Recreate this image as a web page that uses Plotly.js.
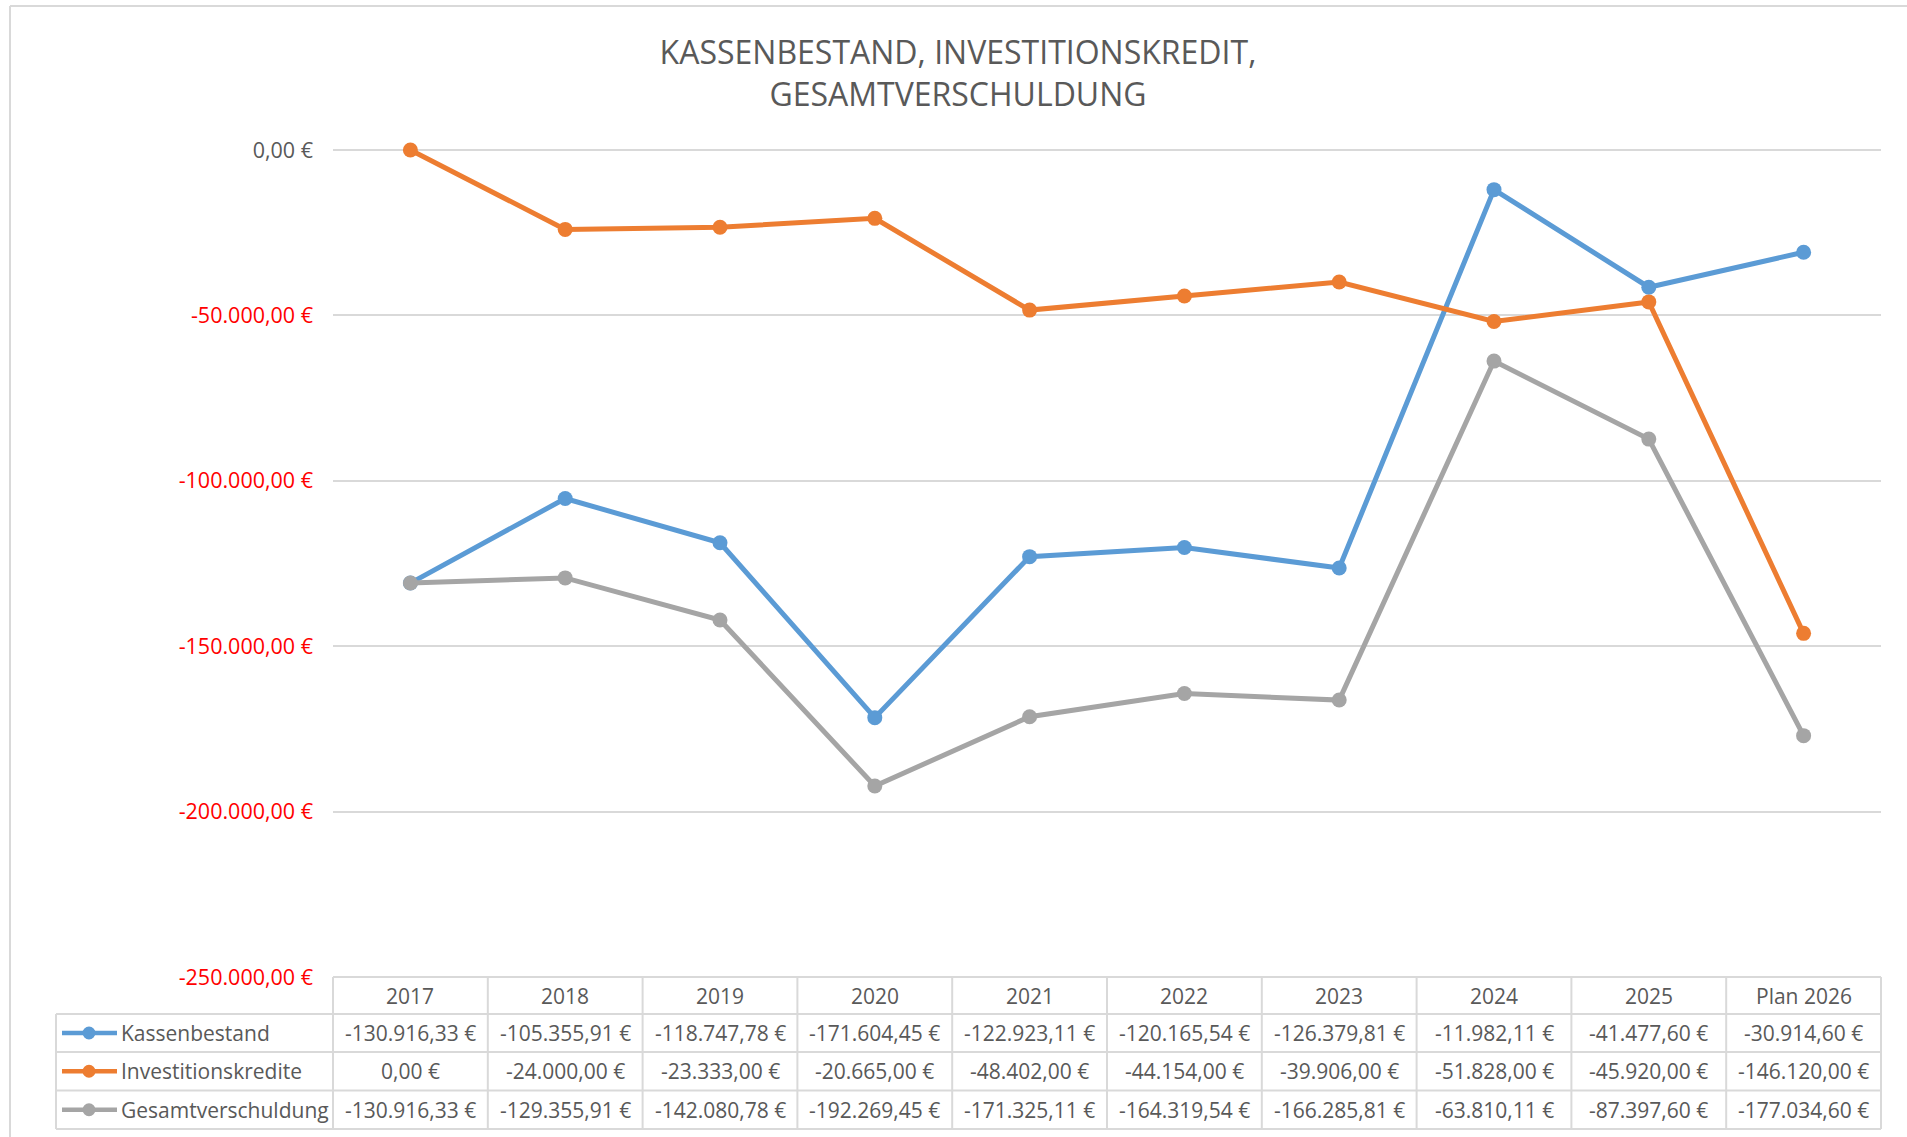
<!DOCTYPE html>
<html><head><meta charset="utf-8">
<script src="https://cdn.plot.ly/plotly-3.0.1.min.js"></script>
<style>html,body{margin:0;padding:0;background:#fff;}#chart{width:1907px;height:1137px;}</style>
</head><body><div id="chart"></div>
<script>
const categories = ['2017','2018','2019','2020','2021','2022','2023','2024','2025','Plan 2026'];
const seriesNames = ['Kassenbestand','Investitionskredite','Gesamtverschuldung'];
const kassenbestand = [-130916.33,-105355.91,-118747.78,-171604.45,-122923.11,-120165.54,-126379.81,-11982.11,-41477.60,-30914.60];
const investitionskredite = [0,-24000,-23333,-20665,-48402,-44154,-39906,-51828,-45920,-146120];
const gesamtverschuldung = [-130916.33,-129355.91,-142080.78,-192269.45,-171325.11,-164319.54,-166285.81,-63810.11,-87397.60,-177034.60];
const yTickValues = [0,-50000,-100000,-150000,-200000,-250000];
const titleText = 'KASSENBESTAND, INVESTITIONSKREDIT,<br>GESAMTVERSCHULDUNG';

const seriesValues = [kassenbestand, investitionskredite, gesamtverschuldung];
const colors = ['#5B9BD5','#ED7D31','#A5A5A5'];
const textColor = '#595959';
const lineColor = '#D9D9D9';
const FONT = '"Open Sans", sans-serif';

function fmtEuro(v){
  const neg = v < 0;
  const s = Math.abs(v).toFixed(2);
  let [i, d] = s.split('.');
  i = i.replace(/\B(?=(\d{3})+(?!\d))/g, '.');
  return (neg ? '-' : '') + i + ',' + d + ' €';
}

// layout geometry (pixels)
const W = 1907, H = 1137;
const mL = 333, mR = 26, mT = 150, mB = 160;
const pw = W - mL - mR, ph = H - mT - mB;
const plotBottom = H - mB;
const xp = px => (px - mL) / pw;
const yp = py => (plotBottom - py) / ph;

const rowEdges = [plotBottom, 1014, 1052, 1090.5, 1129];
const rowCenter = k => (rowEdges[k] + rowEdges[k+1]) / 2;
const legendLeft = 56;

const traces = seriesValues.map((vals, k) => ({
  type: 'scatter', mode: 'lines+markers',
  name: seriesNames[k], x: categories, y: vals,
  line: {color: colors[k], width: 5},
  marker: {color: colors[k], size: 15},
  cliponaxis: false, showlegend: false, hoverinfo: 'x+y'
}));

const shapes = [];
const annotations = [];
const lineStyle = {color: lineColor, width: 2};

// chart frame (left and top edges)
shapes.push({type:'line', xref:'paper', yref:'paper', x0:xp(10), x1:xp(10), y0:yp(6), y1:yp(H+5), line:{color:lineColor, width:2}});
shapes.push({type:'line', xref:'paper', yref:'paper', x0:xp(10), x1:xp(W+5), y0:yp(6), y1:yp(6), line:{color:lineColor, width:2}});

// table horizontal lines
shapes.push({type:'line', xref:'paper', yref:'paper', x0:0, x1:1, y0:yp(rowEdges[0]), y1:yp(rowEdges[0]), line:lineStyle});
for (let r = 1; r < rowEdges.length; r++) {
  shapes.push({type:'line', xref:'paper', yref:'paper', x0:xp(legendLeft), x1:1, y0:yp(rowEdges[r]), y1:yp(rowEdges[r]), line:lineStyle});
}
// table vertical lines
for (let c = 0; c <= categories.length; c++) {
  const x = c / categories.length;
  shapes.push({type:'line', xref:'paper', yref:'paper', x0:x, x1:x, y0:yp(rowEdges[0]), y1:yp(rowEdges[4]), line:lineStyle});
}
shapes.push({type:'line', xref:'paper', yref:'paper', x0:xp(legendLeft), x1:xp(legendLeft), y0:yp(rowEdges[1]), y1:yp(rowEdges[4]), line:lineStyle});

// header (x given as category index on the category axis)
categories.forEach((c, i) => annotations.push({
  xref:'x', yref:'paper', x:i, y:yp(rowCenter(0)), text:c, showarrow:false,
  xanchor:'center', yanchor:'middle', font:{family:FONT, size:21, color:textColor}
}));
// rows
seriesValues.forEach((vals, k) => {
  const yc = rowCenter(k+1);
  vals.forEach((v, i) => annotations.push({
    xref:'x', yref:'paper', x:i, y:yp(yc), text:fmtEuro(v), showarrow:false,
    xanchor:'center', yanchor:'middle', font:{family:FONT, size:21, color:textColor}
  }));
  // legend key
  shapes.push({type:'line', xref:'paper', yref:'paper', x0:xp(62), x1:xp(117), y0:yp(yc), y1:yp(yc), line:{color:colors[k], width:4.5}});
  shapes.push({type:'circle', xref:'paper', yref:'paper', x0:xp(89-6.5), x1:xp(89+6.5), y0:yp(yc+6.5), y1:yp(yc-6.5), fillcolor:colors[k], line:{color:colors[k], width:0}});
  annotations.push({
    xref:'paper', yref:'paper', x:xp(119), y:yp(yc), text:seriesNames[k], showarrow:false,
    xanchor:'left', yanchor:'middle', font:{family:FONT, size:21, color:textColor}
  });
});

const yTickText = yTickValues.map(v => v < 0 ? '<span style="color:#FF0000">' + fmtEuro(v) + '</span>' : fmtEuro(v));

const layout = {
  width: W, height: H, autosize: false,
  paper_bgcolor: '#ffffff', plot_bgcolor: '#ffffff',
  margin: {l: mL, r: mR, t: mT, b: mB, pad: 0},
  font: {family: FONT, color: textColor},
  title: {
    text: titleText, x: 958 / W, xref: 'container', xanchor: 'center',
    y: 1 - 64 / H, yref: 'container', yanchor: 'middle',
    font: {family: FONT, size: 32, color: textColor}
  },
  xaxis: {
    type: 'category', categoryarray: categories, categoryorder: 'array',
    range: [-0.5, categories.length - 0.5],
    showgrid: false, zeroline: false, showline: false, showticklabels: false, ticks: ''
  },
  yaxis: {
    range: [-250000, 0], tickvals: yTickValues, ticktext: yTickText,
    showgrid: true, gridcolor: lineColor, gridwidth: 1.5,
    zeroline: true, zerolinecolor: lineColor, zerolinewidth: 1.5,
    showline: false, ticks: '', ticklabelstandoff: 19,
    tickfont: {family: FONT, size: 21.5, color: textColor}
  },
  shapes: shapes,
  annotations: annotations,
  showlegend: false
};

Plotly.newPlot('chart', traces, layout, {displayModeBar: false, staticPlot: false});
</script>
</body></html>
